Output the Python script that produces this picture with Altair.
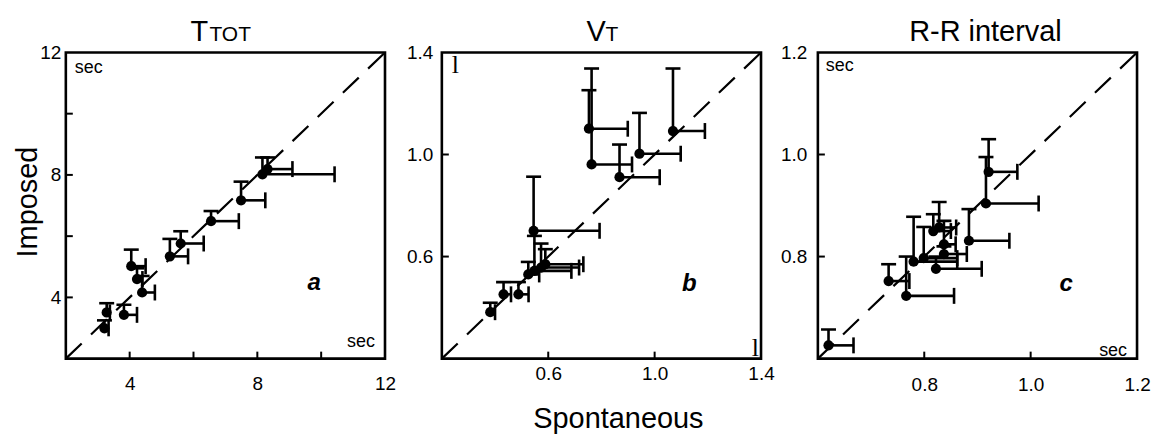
import altair as alt
import pandas as pd

# ---------------- data ----------------
# Panel a: TTOT (sec)
a_x = [3.21, 3.28, 3.82, 4.05, 4.23, 4.39, 5.26, 5.60, 6.55, 7.49, 8.16, 8.32]
a_y = [2.99, 3.51, 3.43, 5.02, 4.60, 4.16, 5.34, 5.76, 6.49, 7.17, 8.02, 8.19]
a_ytop = [3.25, 3.81, 3.76, 5.56, 4.95, 4.70, 5.91, 6.16, 6.82, 7.78, 8.57, 8.57]
a_xright = [3.34, 3.38, 4.23, 4.50, 4.40, 4.79, 5.83, 6.32, 7.42, 8.25, 10.42, 9.10]

# Panel b: VT (l)
b_x = [0.382, 0.432, 0.488, 0.525, 0.548, 0.573, 0.589, 0.545, 0.753, 0.763, 0.868, 0.943, 1.069]
b_y = [0.382, 0.452, 0.452, 0.530, 0.544, 0.557, 0.570, 0.701, 1.101, 0.961, 0.911, 1.003, 1.092]
b_ytop = [0.419, 0.500, 0.500, 0.579, 0.681, 0.651, 0.629, 0.913, 1.252, 1.337, 1.039, 1.163, 1.337]
b_xright = [0.400, 0.460, 0.526, 0.566, 0.687, 0.716, 0.732, 0.793, 0.899, 0.915, 1.019, 1.098, 1.189]

# Panel c: R-R interval (sec)
c_x = [0.620, 0.733, 0.766, 0.780, 0.799, 0.822, 0.817, 0.828, 0.837, 0.837, 0.884, 0.916, 0.921]
c_y = [0.626, 0.752, 0.723, 0.790, 0.797, 0.776, 0.850, 0.857, 0.824, 0.805, 0.831, 0.904, 0.966]
c_ytop = [0.657, 0.785, 0.800, 0.878, 0.858, 0.800, 0.883, 0.907, 0.870, 0.820, 0.893, 0.995, 1.030]
c_xright = [0.667, 0.772, 0.856, 0.862, 0.862, 0.908, 0.850, 0.860, 0.859, 0.880, 0.960, 1.015, 0.975]

# axis domains, tick marks and tick labels
a_domain = [2, 12]; a_ticks = [4, 6, 8, 10]; a_labels = [4, 8, 12]
b_domain = [0.2, 1.4]; b_ticks = [0.6, 1.0]; b_labels = [0.6, 1.0, 1.4]
c_domain = [0.6, 1.2]; c_ticks = [0.8, 1.0]; c_labels = [0.8, 1.0, 1.2]

W, H = 320, 307
FONT = "Liberation Sans"
LW = 2.6


def panel(xs, ys, ytop, xright, domain, ticks, labels, fmt,
          xpad, ypad, extra):
    df = pd.DataFrame({"x": xs, "y": ys, "ytop": ytop, "xright": xright})
    sx = alt.Scale(domain=domain, nice=False, zero=False)
    sy = alt.Scale(domain=domain, nice=False, zero=False)
    xaxis = alt.Axis(values=labels, ticks=False, tickSize=0, domain=False, grid=False,
                     labelPadding=xpad, labelFlush=False, labelOverlap=False,
                     labelFontSize=19, format=fmt, title=None)
    yaxis = alt.Axis(values=labels, ticks=False, tickSize=0, domain=False, grid=False,
                     labelPadding=ypad, labelFlush=False, labelOverlap=False,
                     labelFontSize=19, format=fmt, title=None)
    X = lambda f: alt.X(f, type="quantitative", scale=sx, axis=xaxis)
    Y = lambda f: alt.Y(f, type="quantitative", scale=sy, axis=yaxis)

    diag = alt.Chart(pd.DataFrame({"v": domain})).mark_line(
        color="black", strokeWidth=2.2, strokeDash=[22, 13]).encode(x=X("v"), y=Y("v"))
    base = alt.Chart(df)
    vbar = base.mark_rule(color="black", strokeWidth=LW, opacity=1).encode(
        x=X("x"), y=Y("y"), y2="ytop")
    vcap = base.mark_tick(color="black", orient="horizontal", size=15, thickness=LW,
                          opacity=1).encode(x=X("x"), y=Y("ytop"))
    hbar = base.mark_rule(color="black", strokeWidth=LW, opacity=1).encode(
        x=X("x"), x2="xright", y=Y("y"))
    hcap = base.mark_tick(color="black", orient="vertical", size=16, thickness=LW,
                          opacity=1).encode(x=X("xright"), y=Y("y"))
    pts = base.mark_circle(color="black", size=105, opacity=1).encode(x=X("x"), y=Y("y"))

    tdf = pd.DataFrame({"t": ticks})
    xt = alt.Chart(tdf).mark_rule(color="black", strokeWidth=2).encode(
        x=X("t"), y=alt.value(H), y2=alt.value(H - 7))
    yt = alt.Chart(tdf).mark_rule(color="black", strokeWidth=2).encode(
        y=Y("t"), x=alt.value(0), x2=alt.value(7))

    layers = [diag, xt, yt, vbar, hbar, vcap, hcap, pts] + extra
    return alt.layer(*layers).properties(width=W, height=H)


one = pd.DataFrame({"k": [0]})


def txt(s, x, y, size=17, align="left", font=FONT, weight="normal", style="normal",
        angle=0, baseline="alphabetic"):
    return alt.Chart(one).mark_text(
        text=s, fontSize=size, font=font, align=align, baseline=baseline,
        fontWeight=weight, fontStyle=style, angle=angle, color="black").encode(
        x=alt.value(x), y=alt.value(y))


extra_a = [
    txt("T", 125, -11, size=29),
    txt("TOT", 144, -11, size=21),
    txt("sec", 9, 21, size=18),
    txt("sec", 310, 295, size=18, align="right"),
    txt("a", 249, 238, size=24, align="center", weight="bold", style="italic"),
    txt("Imposed", -29, 150, size=29, align="center", angle=270),
]
extra_b = [
    txt("V", 145, -11, size=29),
    txt("T", 164, -11, size=21),
    txt("l", 10, 21, size=26, font="Liberation Serif"),
    txt("l", 318, 304, size=26, font="Liberation Serif", align="right"),
    txt("b", 248, 239, size=24, align="center", weight="bold", style="italic"),
    txt("Spontaneous", 177, 377, size=29, align="center"),
]
extra_c = [
    txt("R-R interval", 168, -11, size=29, align="center"),
    txt("sec", 8, 19, size=18),
    txt("sec", 310, 304, size=18, align="right"),
    txt("c", 249, 239, size=24, align="center", weight="bold", style="italic"),
]

pa = panel(a_x, a_y, a_ytop, a_xright, a_domain, a_ticks, a_labels, "d", 16, 5, extra_a)
pb = panel(b_x, b_y, b_ytop, b_xright, b_domain, b_ticks, b_labels, ".1f", 6, 9, extra_b)
pc = panel(c_x, c_y, c_ytop, c_xright, c_domain, c_ticks, c_labels, ".1f", 17, 11, extra_c)

chart = alt.hconcat(pa, pb, pc, spacing=57, bounds="flush").properties(
    padding={"left": 12, "top": 16, "right": 0, "bottom": 0},
    background="white",
).configure_view(stroke="black", strokeWidth=2.6).configure_axis(
    labelFont=FONT, labelColor="black"
)

chart.save("out.html", embed_options={"renderer": "svg", "actions": False})
